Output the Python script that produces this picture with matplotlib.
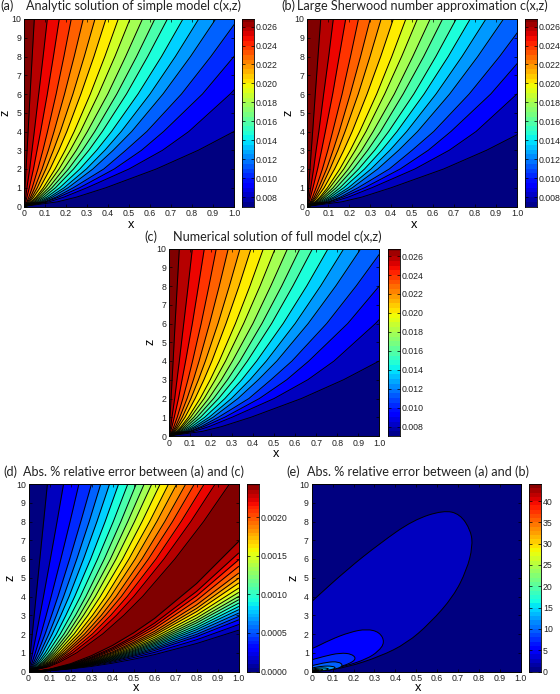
import numpy as np
import matplotlib
matplotlib.use("Agg")
import matplotlib.pyplot as plt
from matplotlib.path import Path
from matplotlib.patches import PathPatch

# ── Data ──────────────────────────────────────────────────────────────────────
# (a)(c): contour x position at each z node, one row per level
C_LEVELS = [0.008, 0.009, 0.010, 0.011, 0.012, 0.013, 0.014, 0.015, 0.016, 0.017,
            0.018, 0.019, 0.020, 0.021, 0.022, 0.023, 0.024, 0.025, 0.026]
C_RANGE = [0.007, 0.0268]
C_Z = [0, 0.25, 0.5, 1, 2, 3, 4, 6, 8, 10]
A_X = [
    [0, .16, .25, .39, .63, .83, 1.0, 1.28, 1.5, 1.75],
    [0, .12, .19, .30, .50, .66, .785, .982, 1.15, 1.3],
    [0, .105, .165, .265, .43, .56, .665, .85, 1.0, 1.13],
    [0, .098, .152, .235, .38, .485, .585, .75, .89, 1.02],
    [0, .087, .135, .21, .328, .425, .513, .662, .793, .913],
    [0, .078, .122, .191, .297, .385, .463, .6, .721, .832],
    [0, .069, .108, .17, .266, .346, .417, .543, .655, .757],
    [0, .06, .095, .15, .236, .309, .373, .488, .589, .683],
    [0, .053, .083, .133, .212, .278, .337, .442, .536, .623],
    [0, .046, .073, .118, .189, .249, .302, .399, .484, .564],
    [0, .04, .064, .103, .167, .22, .269, .355, .433, .505],
    [0, .035, .057, .092, .148, .196, .239, .316, .385, .449],
    [0, .028, .046, .076, .124, .166, .204, .271, .333, .39],
    [0, .023, .038, .063, .104, .14, .173, .233, .287, .338],
    [0, .018, .031, .051, .086, .116, .143, .193, .239, .282],
    [0, .014, .023, .039, .066, .09, .112, .153, .19, .225],
    [0, .008, .014, .025, .045, .062, .079, .111, .14, .168],
    [0, .004, .008, .014, .027, .038, .049, .07, .091, .111],
    [0, .0012, .0025, .0049, .0098, .0147, .0196, .029, .039, .049],
]
# (b): same levels, lines sit a little further right
B_X = [
    [0, .165, .26, .40, .65, .855, 1.03, 1.32, 1.55, 1.8],
    [0, .123, .195, .308, .513, .677, .805, 1.0, 1.18, 1.33],
    [0, .108, .17, .273, .443, .577, .685, .875, 1.03, 1.16],
    [0, .101, .157, .242, .391, .50, .603, .772, .917, 1.05],
    [0, .089, .138, .215, .336, .436, .526, .679, .813, .936],
    [0, .08, .125, .196, .304, .394, .474, .614, .738, .852],
    [0, .071, .111, .174, .273, .355, .428, .557, .672, .777],
    [0, .062, .099, .156, .245, .321, .388, .508, .613, .71],
    [0, .055, .086, .138, .219, .288, .349, .457, .555, .645],
    [0, .048, .076, .123, .196, .259, .314, .415, .503, .586],
    [0, .042, .067, .107, .174, .229, .28, .369, .45, .525],
    [0, .037, .06, .096, .155, .205, .25, .331, .403, .47],
    [0, .029, .048, .08, .13, .174, .214, .285, .35, .41],
    [0, .024, .04, .066, .108, .146, .18, .243, .299, .352],
    [0, .019, .033, .054, .092, .123, .152, .205, .254, .30],
    [0, .015, .025, .042, .072, .098, .121, .166, .206, .244],
    [0, .009, .015, .027, .049, .068, .086, .121, .152, .183],
    [0, .0045, .009, .016, .03, .042, .055, .078, .102, .124],
    [0, .0016, .0033, .0064, .0128, .019, .0256, .038, .051, .064],
]
C_TICKS = [0.008, 0.010, 0.012, 0.014, 0.016, 0.018, 0.020, 0.022, 0.024, 0.026]

# (d): 19 contours, left family x(z), right family z(x)
D_RANGE = [0.0, 0.00243]
D_UP_Z = [0, 0.25, 0.5, 1, 2, 3, 4, 6, 8, 10]
D_UP_X = [
    [0, .0023, .0045, .009, .018, .027, .036, .054, .072, .09],
    [0, .0054, .0103, .0196, .0374, .0544, .0713, .104, .136, .167],
    [0, .0097, .0177, .0324, .0593, .0842, .108, .154, .198, .24],
    [0, .014, .025, .044, .079, .11, .14, .196, .249, .30],
    [0, .0186, .032, .056, .097, .133, .167, .23, .289, .344],
    [0, .0234, .04, .067, .113, .154, .193, .262, .326, .386],
    [0, .029, .048, .08, .133, .178, .22, .296, .365, .429],
    [0, .034, .056, .092, .151, .201, .247, .329, .404, .473],
    [0, .04, .065, .105, .169, .224, .273, .361, .44, .513],
    [0, .045, .072, .115, .185, .243, .295, .39, .473, .551],
    [0, .05, .079, .126, .2, .262, .318, .417, .505, .587],
    [0, .055, .087, .137, .217, .283, .342, .448, .541, .627],
    [0, .061, .095, .149, .234, .305, .368, .478, .577, .667],
    [0, .065, .102, .16, .25, .325, .391, .508, .611, .706],
    [0, .071, .11, .172, .267, .347, .417, .54, .649, .749],
    [0, .076, .118, .182, .284, .367, .442, .571, .686, .79],
    [0, .082, .127, .196, .304, .392, .47, .607, .727, .837],
    [0, .089, .137, .211, .325, .419, .501, .645, .773, .889],
    [0, .097, .149, .23, .353, .454, .543, .697, .834, .957],
]
D_LOW_X = [0, .05, .1, .2, .3, .4, .5, .6, .8, 1.0]
D_LOW_Z = [
    [0, .012, .039, .132, .268, .442, .653, .9, 1.49, 2.2],
    [0, .013, .045, .15, .305, .503, .743, 1.02, 1.69, 2.5],
    [0, .015, .049, .165, .336, .553, .817, 1.12, 1.86, 2.75],
    [0, .016, .052, .176, .357, .589, .87, 1.2, 1.98, 2.93],
    [0, .016, .055, .187, .379, .625, .924, 1.27, 2.11, 3.11],
    [0, .017, .059, .197, .401, .661, .977, 1.35, 2.23, 3.29],
    [0, .018, .062, .208, .422, .695, 1.03, 1.42, 2.34, 3.46],
    [0, .019, .065, .218, .444, .732, 1.08, 1.49, 2.46, 3.64],
    [0, .02, .068, .229, .466, .768, 1.13, 1.56, 2.59, 3.82],
    [0, .021, .071, .24, .488, .804, 1.19, 1.64, 2.71, 4.0],
    [0, .022, .075, .253, .514, .846, 1.25, 1.72, 2.85, 4.21],
    [0, .024, .079, .266, .542, .892, 1.32, 1.82, 3.01, 4.44],
    [0, .025, .084, .283, .575, .947, 1.4, 1.93, 3.19, 4.71],
    [0, .026, .088, .298, .606, .999, 1.48, 2.03, 3.36, 4.97],
    [0, .028, .093, .314, .639, 1.05, 1.56, 2.14, 3.55, 5.24],
    [0, .03, .1, .336, .683, 1.13, 1.66, 2.29, 3.79, 5.6],
    [0, .032, .106, .357, .726, 1.2, 1.77, 2.43, 4.03, 5.95],
    [0, .033, .112, .379, .77, 1.27, 1.87, 2.58, 4.27, 6.31],
    [0, .037, .123, .416, .845, 1.39, 2.06, 2.83, 4.69, 6.93],
]
D_TICKS = [0.0, 0.0005, 0.0010, 0.0015, 0.0020]

# (e): closed contours, (x, z) control points, and the colour band inside each
E_RANGE = [0, 44]
E_BANDS = [1, 2, 3, 4, 5, 6, 8, 11, 14]
E_LOOPS = [
    [(-.08, 2.9), (0, 3.73), (.167, 5.42), (.327, 6.84), (.486, 8.08), (.63, 8.6), (.71, 8.4), (.762, 7.5), (.77, 6.66),
     (.742, 5.42), (.678, 4.0), (.566, 2.58), (.455, 1.51), (.327, .8), (.167, .22), (.056, .05), (-.08, .02)],
    [(-.08, .9), (0, 1.19), (.088, 1.69), (.183, 2.1), (.263, 2.27), (.325, 2.1), (.35, 1.56), (.319, 1.07),
     (.263, .67), (.167, .3), (.056, .06), (-.08, .02)],
    [(-.08, .42), (0, .62), (.056, .8), (.136, 1.0), (.195, .93), (.215, .62), (.15, .28), (.08, .1), (-.08, .02)],
    [(-.08, .17), (0, .3), (.072, .5), (.128, .53), (.152, .32), (.12, .13), (.05, .03), (-.08, .02)],
    [(-.05, .1), (0, .18), (.05, .29), (.1, .29), (.118, .18), (.08, .06), (.02, .02), (-.05, .02)],
    [(-.04, .07), (0, .12), (.03, .19), (.07, .19), (.085, .12), (.05, .04), (-.04, .02)],
    [(-.02, .05), (.005, .08), (.03, .13), (.055, .11), (.05, .05), (.02, .025), (-.02, .02)],
    [(.0, .04), (.01, .07), (.03, .09), (.04, .06), (.025, .03), (.005, .02)],
    [(.005, .035), (.012, .055), (.025, .06), (.025, .035), (.012, .025)],
]
E_TICKS = [0, 5, 10, 15, 20, 25, 30, 35, 40]

X_TICKS = [0, .1, .2, .3, .4, .5, .6, .7, .8, .9, 1.0]
X_LABELS = ["0", "0.1", "0.2", "0.3", "0.4", "0.5", "0.6", "0.7", "0.8", "0.9", "1.0"]
Z_TICKS = list(range(0, 11))

# ── Layout (pixels) ───────────────────────────────────────────────────────────
W, H = 560, 694
TICK_FONT = "Liberation Sans"
TITLE_FONT = "Lato"
BAND_STOPS = ([0, 12, 19], [0, 0.66, 1])   # contour band number -> place on the jet map

fig = plt.figure(figsize=(W / 100, H / 100), dpi=100)
jet = plt.get_cmap("jet")


def px_axes(left, top, right, bottom):
    return fig.add_axes([left / W, 1 - bottom / H, (right - left) / W, (bottom - top) / H])


def band_color(i):
    return jet(np.interp(i, *BAND_STOPS))


def style_ax(ax, box, label, title, label_x, title_x, title_y):
    w, h = box[2] - box[0], box[3] - box[1]
    xlabel_gap = 16.3 if box[1] > 480 else 18   # bottom row sits close to the image edge
    ax.set_xlim(0, 1)
    ax.set_ylim(0, 10)
    ax.set_xticks(X_TICKS, X_LABELS)
    ax.set_yticks(Z_TICKS)
    ax.tick_params(direction="in", length=2, width=0.5, top=True, right=True, pad=2, labelsize=6.3,
                   labelcolor="#222222")
    for t in ax.get_xticklabels() + ax.get_yticklabels():
        t.set_fontfamily(TICK_FONT)
    for sp in ax.spines.values():
        sp.set_linewidth(0.7)
    ax.set_xlabel("x", fontsize=9.2, family=TICK_FONT, va="center")
    ax.set_ylabel("z", fontsize=9.2, family=TICK_FONT, va="center")
    ax.xaxis.set_label_coords(0.51, -xlabel_gap / h)
    ax.yaxis.set_label_coords(-18.5 / w, 0.5)
    fig.text(label_x / W, 1 - title_y / H, label, fontsize=9.1, family=TITLE_FONT, va="center", color="#222222")
    fig.text(title_x / W, 1 - title_y / H, title, fontsize=9.1, family=TITLE_FONT, va="center", color="#222222")


def draw_colorbar(left, top, right, bottom, vrange, step, ticks, fmt):
    cax = px_axes(left, top, right, bottom)
    edges = np.arange(vrange[0], vrange[1] + step, step)
    edges[-1] = vrange[1]
    mids = 0.5 * (edges[:-1] + edges[1:])
    cax.pcolormesh([0, 1], edges, mids[:, None], cmap=jet, vmin=vrange[0], vmax=vrange[1])
    cax.set_ylim(vrange)
    cax.set_xticks([])
    cax.set_yticks(ticks, [fmt % t for t in ticks])
    cax.yaxis.tick_right()
    cax.tick_params(direction="in", length=2, width=0.5, left=True, right=True, pad=1.5, labelsize=6.3,
                    labelcolor="#222222")
    for t in cax.get_yticklabels():
        t.set_fontfamily(TICK_FONT)
    for sp in cax.spines.values():
        sp.set_linewidth(0.6)


# ── Concentration panels ──────────────────────────────────────────────────────
def draw_c_panel(rows, box, cbox, label, title, label_x, title_x, title_y):
    ax = px_axes(*box)
    ax.set_facecolor(band_color(0))
    z = np.array(C_Z)
    for i, row in enumerate(rows):
        ax.fill_betweenx(z, 0, row, color=band_color(i + 1), lw=0)
    for row in rows:
        ax.plot(row, z, color="black", lw=0.7)
    style_ax(ax, box, label, title, label_x, title_x, title_y)
    draw_colorbar(*cbox, C_RANGE, 0.0005, C_TICKS, "%.3f")


draw_c_panel(A_X, (24, 19, 234, 206.5), (242, 19, 254, 206.5),
             "(a)", "Analytic solution of simple model c(x,z)", 0.5, 26, 6)
draw_c_panel(B_X, (307.3, 19, 517, 206.5), (524.5, 19, 536.5, 206.5),
             "(b)", "Large Sherwood number approximation c(x,z)", 281, 297, 6)
draw_c_panel(A_X, (169, 248.5, 379.3, 436), (387.5, 248.5, 399.5, 436),
             "(c)", "Numerical solution of full model c(x,z)", 144, 173, 237)

# ── Error panel (d) ───────────────────────────────────────────────────────────
box = (28.5, 484, 238.5, 671.5)
ax = px_axes(*box)
ax.set_facecolor(band_color(19))
for k in range(18, -1, -1):
    ax.fill_betweenx(D_UP_Z, 0, D_UP_X[k], color=band_color(k), lw=0)
    ax.fill_between(D_LOW_X, 0, D_LOW_Z[k], color=band_color(k), lw=0)
for k in range(19):
    ax.plot(D_UP_X[k], D_UP_Z, color="black", lw=0.7)
    ax.plot(D_LOW_X, D_LOW_Z[k], color="black", lw=0.7)
style_ax(ax, box, "(d)", "Abs. % relative error between (a) and (c)", 3, 23.5, 472)
draw_colorbar(247, 484, 259, 671.5, D_RANGE, 0.00005, D_TICKS, "%.4f")

# ── Error panel (e) ───────────────────────────────────────────────────────────
box = (311.7, 484, 520.7, 671.5)
ax = px_axes(*box)
ax.set_facecolor(band_color(0))
for pts, b in zip(E_LOOPS, E_BANDS):
    pts = np.array(pts)
    mids = 0.5 * (pts + np.roll(pts, -1, axis=0))
    verts, codes = [mids[-1]], [Path.MOVETO]
    for p, m in zip(pts, mids):
        verts += [p, m]
        codes += [Path.CURVE3, Path.CURVE3]
    ax.add_patch(PathPatch(Path(verts, codes), facecolor=band_color(b), edgecolor="black", lw=0.7))
style_ax(ax, box, "(e)", "Abs. % relative error between (a) and (b)", 286, 306.5, 472)
draw_colorbar(528.7, 484, 540.7, 671.5, E_RANGE, 1.0, E_TICKS, "%d")

fig.savefig("out.png", dpi=100)
